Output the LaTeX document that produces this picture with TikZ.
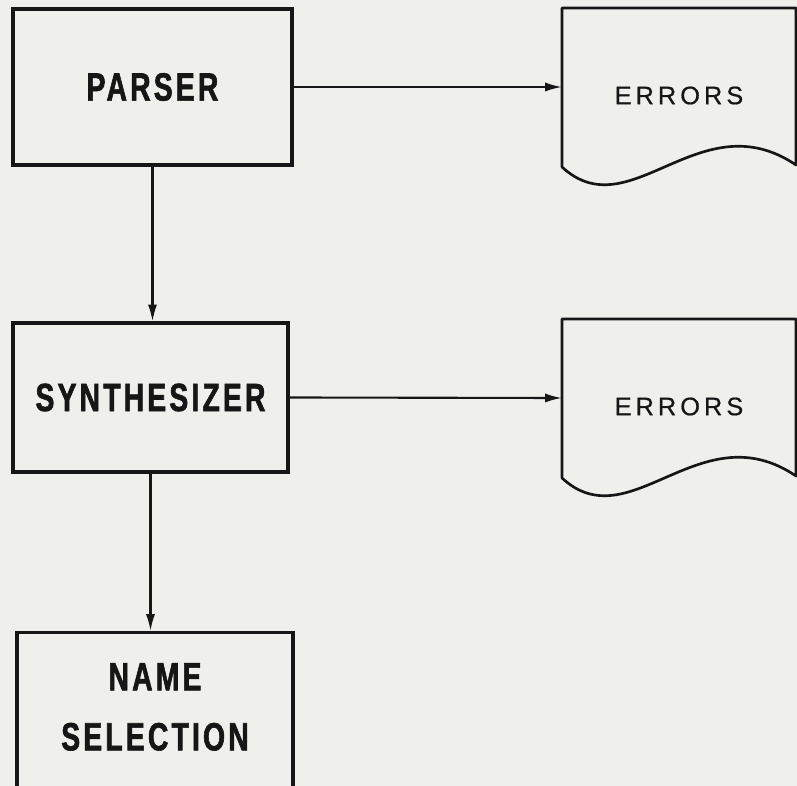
\documentclass[tikz,border=0pt]{standalone}
\usepackage{fontspec}
\usetikzlibrary{arrows.meta}
\newfontfamily\stagefont[FakeStretch=0.72,LetterSpace=8,FakeBold=1.5]{Liberation Sans}
\newfontfamily\errfont[LetterSpace=16,FakeBold=0.6]{Liberation Sans}
\definecolor{paper}{RGB}{239,239,236}
\definecolor{ink}{RGB}{22,22,22}

\tikzset{
  stage/.style={draw=ink, line width=2.2pt, text=ink, align=center,
    font=\stagefont\bfseries\fontsize{28}{42.7}\selectfont},
  flow/.style={draw=ink, line width=1.5pt, -{Latex[length=12pt,width=6.5pt]}},
  errlabel/.style={text=ink, font=\errfont\fontsize{18}{20}\selectfont},
}

\begin{document}
\begin{tikzpicture}[x=0.025cm,y=-0.025cm]
\clip (0,0) rectangle (797,786);
\fill[paper] (0,0) rectangle (797,786);

% processing stages
\node[stage, minimum width=6.975cm, minimum height=3.9cm] (parser) at (152.5,87) {PARSER};
\node[stage, minimum width=6.875cm, minimum height=3.725cm] (synth) at (150.5,397.5) {SYNTHESIZER};
\node[stage, minimum width=6.9cm, minimum height=4.5cm, anchor=north] (namebox) at (155,631) {};
\node[stage, draw=none] (namesel) at (155,707) {NAME\\SELECTION};

% error listings (document symbols)
\foreach \n/\dy in {1/0,2/311}{
  \draw[ink, line width=1.9pt, line join=round]
    (562,8+\dy) -- (796,8+\dy) -- (796,165+\dy)
    .. controls (700,100+\dy) and (630,230+\dy) .. (562,167+\dy) -- cycle;
  \coordinate (doc\n) at (562,87+\dy);
  \node[errlabel] (err\n) at (679,95.5+\dy) {ERRORS};
}

% connectors
\draw[flow] (parser.east) -- (doc1);
\draw[flow] (synth.east) -- (doc2);
\draw[flow] (parser.south) -- (parser.south |- synth.north);
\draw[flow] (synth.south) -- (synth.south |- namebox.north);
\end{tikzpicture}
\end{document}
